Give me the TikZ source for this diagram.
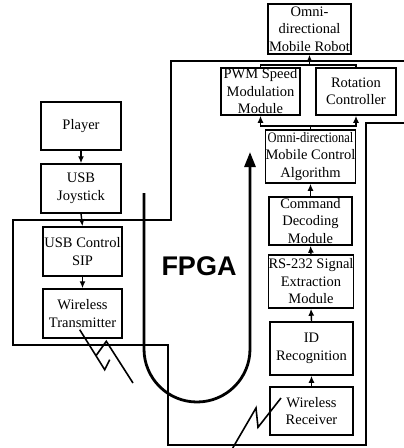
\documentclass[tikz,border=0pt]{standalone}
\usepackage{fontspec}
\setmainfont{Liberation Serif}
\newfontfamily\fpgafam{Liberation Sans}
\usetikzlibrary{arrows.meta}
\newcommand\boxfont{\fontsize{14.5}{17.5}\selectfont}
\newcommand\fpgafont{\fpgafam\bfseries\fontsize{27}{30}\selectfont}
\tikzset{
  box/.style={draw, line width=1.5pt, rectangle, inner sep=0pt, align=center, font=\boxfont},
  arr/.style={-{Latex[length=7pt,width=6pt]}, line width=1.4pt},
  outline/.style={line width=1.4pt},
  bolt/.style={line width=1.6pt},
  bigarrow/.style={line width=2.8pt, -{Triangle[length=15pt,width=11pt]}}
}
\begin{document}
\begin{tikzpicture}[x=1pt,y=-1pt]
\useasboundingbox (0,0) rectangle (404,448);
% FPGA outline
\draw[outline] (404,61) -- (171,61) -- (171,220) -- (13,220) -- (13,345) -- (168,345) -- (168,445) -- (366,445) -- (366,123) -- (404,123);
% boxes
\node[box, minimum width=83pt, minimum height=50pt] (robot) at (309.5,29) {Omni-\\directional\\Mobile Robot};
\node[box, minimum width=79pt, minimum height=47pt] (pwm) at (260.5,91.5) {PWM Speed\\Modulation\\Module};
\node[box, minimum width=80pt, minimum height=47pt] (rot) at (356,91.5) {Rotation\\Controller};
\node[box, minimum width=83pt, minimum height=53pt] (ctrl) at (310.5,156.5) {\scalebox{0.86}[1]{Omni-directional}\\Mobile Control\\Algorithm};
\node[box, minimum width=83pt, minimum height=48pt] (cmd) at (310.5,221) {Command\\Decoding\\Module};
\node[box, minimum width=82pt, minimum height=53pt] (rs) at (311,281.5) {RS-232 Signal\\Extraction\\Module};
\node[box, minimum width=83pt, minimum height=53pt] (id) at (311.5,348.5) {ID\\Recognition};
\node[box, minimum width=83pt, minimum height=48pt] (rx) at (311.5,411) {Wireless\\Receiver};
\node[box, minimum width=80pt, minimum height=48pt] (player) at (81,126) {Player};
\node[box, minimum width=80pt, minimum height=49pt] (joy) at (81,188.5) {USB\\Joystick};
\node[box, minimum width=79pt, minimum height=49pt] (sip) at (82.5,251.5) {USB Control\\SIP};
\node[box, minimum width=79pt, minimum height=49pt] (tx) at (82.5,313.5) {Wireless\\Transmitter};
% left column arrows
\draw[arr] (player.south) -- (joy.north);
\draw[arr] (joy.south) -- (sip.north);
\draw[arr] (sip.south) -- (tx.north);
% right column arrows
\draw[arr] (rx.north) -- (id.south);
\draw[arr] (id.north) -- (rs.south);
\draw[arr] (rs.north) -- (cmd.south);
\draw[arr] (cmd.north) -- (ctrl.south);
% control to PWM / rotation
\coordinate (split) at (310.5,126);
\draw[line width=1.4pt] (ctrl.north) -- (split);
\draw[arr] (split) -| (pwm.south);
\draw[arr] (split) -| (rot.south);
% PWM / rotation to robot
\coordinate (join) at (309.5,65);
\draw[line width=1.4pt] (pwm.north) |- (join) -| (rot.north);
\draw[arr] (join) -- (robot.south);
% big U arrow
\draw[bigarrow] (144,193) -- (144,349) .. controls (144,378.3) and (167.7,402) .. (197,402) .. controls (226.3,402) and (250,378.3) .. (250,349) -- (250,152);
\node[font=\fpgafont] (fpga) at (199,266) {FPGA};
% lightning bolts
\draw[bolt] (79.7,329.7) -- (104.7,369.7) -- (109.7,359.7);
\draw[bolt] (96.3,355.3) -- (106.3,341.3) -- (133,383);
\draw[bolt] (232.7,448) -- (256,408) -- (258,427.3) -- (281,398);
\end{tikzpicture}
\end{document}
